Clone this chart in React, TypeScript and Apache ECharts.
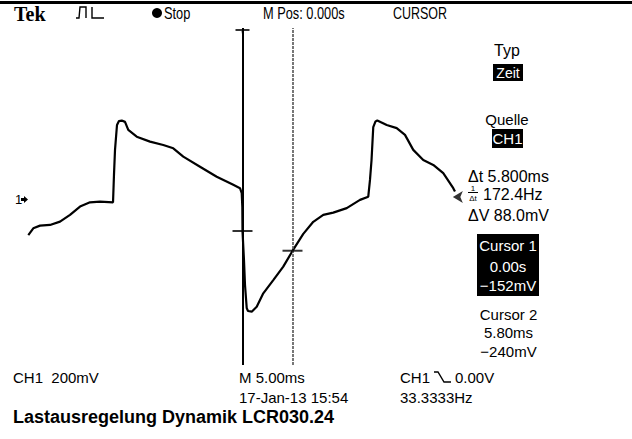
import React, { useEffect, useRef } from "react";
import * as echarts from "echarts";

// ---- Data (time in ms, voltage in mV) ----
const timeMs = [
  -24.85, -24.27, -23.49, -22.33, -21.17, -20.01, -18.85, -17.69, -16.53, -15.02,
  -14.91, -14.79, -14.56, -14.33, -14.01, -13.63, -13.25, -12.27, -10.73, -9.19,
  -8.03, -6.87, -4.93, -2.99, -1.07, -0.29, -0.09, -0.02, 0.0, 0.17,
  0.29, 0.49, 0.64, 1.07, 1.65, 2.41, 3.57, 4.73, 5.8, 7.05,
  8.21, 9.37, 10.53, 12.09, 13.63, 14.59, 14.79, 14.97, 15.17, 15.43,
  15.64, 16.73, 17.89, 18.85, 19.81, 20.97, 22.13, 23.29, 24.45, 24.65,
];
const voltageMv = [
  -170, -140, -128, -125, -110, -80, -43, -24, -21, -24,
  98, 210, 321, 339, 341, 335, 299, 269, 247, 232,
  217, 180, 135, 90, 54, 39, 17, -45, -152, -281,
  -393, -496, -509, -512, -490, -430, -371, -311, -241, -165,
  -111, -80, -70, -50, -13, 1, 76, 165, 312, 337,
  341, 321, 307, 277, 210, 165, 143, 106, 39, 24,
];

const cursorTimes = [0, 5.8];
const cursorValues = [-152, -240];
const triggerLevel = 0;
const triggerMarkerTime = 24.4;
const timeRange = [-25, 25];
const voltRange = [-750, 754];

// ---- Texts ----
const statusLabels = ["Stop", "M Pos: 0.000s", "CURSOR"];
const menuLabels = ["Typ", "Zeit", "Quelle", "CH1"];
const readoutLabels = ["Δt 5.800ms", "172.4Hz", "ΔV 88.0mV"];
const cursor1Lines = ["Cursor 1", "0.00s", "−152mV"];
const cursor2Lines = ["Cursor 2", "5.80ms", "−240mV"];
const footerLabels = ["CH1  200mV", "M 5.00ms", "17-Jan-13 15:54", "CH1", "0.00V", "33.3333Hz"];
const captionText = "Lastausregelung Dynamik LCR030.24";

const FONT = "'Liberation Sans', Arial, Helvetica, sans-serif";

function txt(x: number, y: number, text: string, o: any = {}) {
  return {
    type: "text",
    x,
    y,
    scaleX: o.scaleX ?? 1,
    silent: true,
    z: 10,
    style: {
      text,
      fontFamily: o.family ?? FONT,
      fontSize: o.size ?? 15,
      fontWeight: o.weight ?? "normal",
      fill: o.fill ?? "#000",
      align: o.align ?? "left",
      verticalAlign: "middle",
    },
  };
}

function box(x: number, y: number, w: number, h: number) {
  return { type: "rect", silent: true, z: 9, shape: { x, y, width: w, height: h }, style: { fill: "#000" } };
}

export default function App() {
  const ref = useRef<HTMLDivElement>(null);

  useEffect(() => {
    if (!ref.current) return;
    const chart = echarts.init(ref.current, null, { renderer: "svg" });

    const graphic: any[] = [
      { type: "rect", silent: true, shape: { x: 0, y: 1, width: 632, height: 3 }, style: { fill: "#000" } },
      txt(14, 14, "Tek", { family: "'Liberation Serif', 'DejaVu Serif', serif", weight: "bold", size: 20 }),
      {
        type: "polyline", silent: true,
        shape: { points: [[76, 18], [79, 18], [80, 7], [86, 7], [86, 18]] },
        style: { stroke: "#000", lineWidth: 1.4, fill: null },
      },
      {
        type: "polyline", silent: true,
        shape: { points: [[92, 7], [92, 18], [104, 18]] },
        style: { stroke: "#000", lineWidth: 1.4, fill: null },
      },
      { type: "circle", silent: true, shape: { cx: 157, cy: 13, r: 5 }, style: { fill: "#000" } },
      txt(164, 13, statusLabels[0], { scaleX: 0.8, size: 16 }),
      txt(263, 13, statusLabels[1], { scaleX: 0.8, size: 16 }),
      txt(393, 13, statusLabels[2], { scaleX: 0.78, size: 16 }),

      // right menu
      txt(507, 50, menuLabels[0], { align: "center", size: 16 }),
      box(493, 64, 30, 17),
      txt(508, 72.5, menuLabels[1], { align: "center", fill: "#fff", size: 14 }),
      txt(507, 119, menuLabels[2], { align: "center" }),
      box(492, 129, 31, 19),
      txt(507.5, 138.5, menuLabels[3], { align: "center", fill: "#fff" }),

      txt(468, 176.5, readoutLabels[0], { size: 16 }),
      txt(473, 188, "1", { size: 8, align: "center" }),
      { type: "line", silent: true, shape: { x1: 468, y1: 192.5, x2: 478, y2: 192.5 }, style: { stroke: "#000", lineWidth: 1 } },
      txt(473, 198, "Δt", { size: 8, align: "center" }),
      txt(483, 194, readoutLabels[1], { size: 16 }),
      txt(468, 215, readoutLabels[2], { size: 16 }),

      box(477, 234, 62, 62),
      txt(508, 245, cursor1Lines[0], { align: "center", fill: "#fff" }),
      txt(508, 266, cursor1Lines[1], { align: "center", fill: "#fff" }),
      txt(508, 285, cursor1Lines[2], { align: "center", fill: "#fff" }),
      txt(508.5, 314.5, cursor2Lines[0], { align: "center" }),
      txt(508.5, 332.5, cursor2Lines[1], { align: "center" }),
      txt(508.5, 351.5, cursor2Lines[2], { align: "center" }),

      // footer
      txt(13, 377, footerLabels[0]),
      txt(239, 377, footerLabels[1]),
      txt(239, 397, footerLabels[2]),
      txt(400, 377, footerLabels[3]),
      {
        type: "polyline", silent: true,
        shape: { points: [[434, 372], [438, 372], [444, 382], [451, 382]] },
        style: { stroke: "#000", lineWidth: 1.4, fill: null },
      },
      txt(455, 377, footerLabels[4]),
      txt(400, 397, footerLabels[5]),

      txt(13, 417, captionText, { weight: "bold", size: 18 }),

      // channel 1 ground marker
      txt(15, 199, "1", { size: 13 }),
      {
        type: "polygon", silent: true,
        shape: { points: [[21, 198], [24, 198], [24, 196], [28, 199.5], [24, 203], [24, 201], [21, 201]] },
        style: { fill: "#000" },
      },
    ];

    chart.setOption({
      animation: false,
      backgroundColor: "#fff",
      grid: { left: 27, top: 28, width: 431, height: 337, containLabel: false },
      xAxis: {
        type: "value", min: timeRange[0], max: timeRange[1],
        show: false, splitLine: { show: false },
      },
      yAxis: {
        type: "value", min: voltRange[0], max: voltRange[1],
        show: false, splitLine: { show: false },
      },
      graphic,
      series: [
        {
          type: "line",
          name: "CH1",
          data: timeMs.map((t, i) => [t, voltageMv[i]]),
          showSymbol: false,
          symbol: "none",
          lineStyle: { color: "#000", width: 2.2 },
          silent: true,
          markLine: {
            silent: true,
            symbol: ["none", "none"],
            label: { show: false },
            data: [
              { xAxis: cursorTimes[0], lineStyle: { color: "#000", width: 2, type: "solid" } },
              { xAxis: cursorTimes[1], lineStyle: { color: "#555", width: 1.6, type: [3, 1] } },
            ],
          },
        },
        {
          type: "scatter",
          data: cursorTimes.map((t, i) => [t, cursorValues[i]]),
          symbol: "rect",
          symbolSize: [20, 2],
          itemStyle: { color: "#000" },
          clip: false,
          silent: true,
          z: 5,
        },
        {
          type: "scatter",
          data: [[cursorTimes[0], voltRange[1]]],
          symbol: "path://M0,0 L14,0 L14,2 L8,2 L7,8 L6,2 L0,2 Z",
          symbolSize: [14, 8],
          symbolOffset: [0, 5],
          itemStyle: { color: "#000" },
          clip: false,
          silent: true,
          z: 5,
        },
        {
          type: "scatter",
          data: [[triggerMarkerTime, triggerLevel]],
          symbol: "arrow",
          symbolRotate: 90,
          symbolSize: [9, 10],
          itemStyle: { color: "#000" },
          clip: false,
          silent: true,
          z: 5,
        },
      ],
    });

    return () => chart.dispose();
  }, []);

  return (
    <div
      ref={ref}
      style={{ position: "fixed", left: 0, top: 0, width: 632, height: 439, background: "#fff" }}
    />
  );
}
